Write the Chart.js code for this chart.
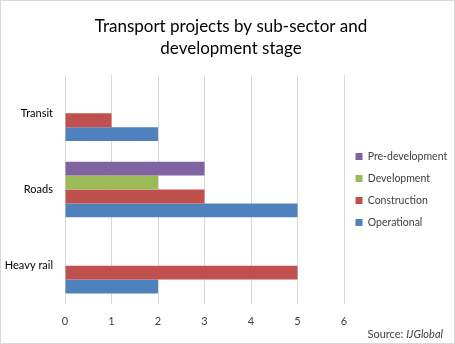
<!DOCTYPE html>
<html>
<head>
<meta charset="utf-8">
<script src="https://cdn.jsdelivr.net/npm/chart.js@4"></script>
<style>
  html, body { margin: 0; padding: 0; background: #fff; }
  #wrap {
    position: relative;
    width: 453px;
    height: 342px;
    border: 1px solid #d9d9d9;
    font-family: Lato, "Open Sans", sans-serif;
  }
  #source {
    position: absolute;
    right: 11px;
    bottom: 3px;
    font-size: 11px;
    color: #404040;
  }
</style>
</head>
<body>
<div id="wrap">
  <canvas id="transportChart" width="453" height="342"></canvas>
  <div id="source">Source: <i>IJGlobal</i></div>
</div>
<script>
// Sub-sectors, listed top to bottom as drawn
const subSectors = ['Transit', 'Roads', 'Heavy rail'];

// Project counts per development stage
const preDevelopment = [0, 3, 0];
const development    = [0, 2, 0];
const construction   = [1, 3, 5];
const operational    = [2, 5, 2];

const xTicks = [0, 1, 2, 3, 4, 5, 6];

const FONT = 'Lato, "Open Sans", sans-serif';

const ctx = document.getElementById('transportChart').getContext('2d');
const transportChart = new Chart(ctx, {
    type: 'bar',
    data: {
        labels: subSectors,
        datasets: [
            { label: 'Pre-development', data: preDevelopment, backgroundColor: '#8064A2' },
            { label: 'Development', data: development, backgroundColor: '#9BBB59' },
            { label: 'Construction', data: construction, backgroundColor: '#C0504D' },
            { label: 'Operational', data: operational, backgroundColor: '#4F81BD' }
        ]
    },
    options: {
        indexAxis: 'y',
        responsive: false,
        animation: false,
        layout: {
            // legend's trailing padding is allowed to run past the edge
            padding: { left: 4, right: -3, top: 10, bottom: 4 }
        },
        datasets: {
            bar: {
                categoryPercentage: 0.73,
                barPercentage: 1.0,
                borderWidth: 0
            }
        },
        plugins: {
            title: {
                display: true,
                text: ['Transport projects by sub-sector and', 'development stage'],
                color: '#000',
                font: { family: FONT, size: 17, weight: 'normal', lineHeight: 1.3 },
                padding: { top: 4, bottom: 16 }
            },
            legend: {
                position: 'right',
                fullSize: false,
                labels: {
                    color: '#404040',
                    font: { family: FONT, size: 10.5 },
                    boxWidth: 7,
                    boxHeight: 7,
                    padding: 11.5
                }
            },
            tooltip: { enabled: false }
        },
        scales: {
            x: {
                min: 0,
                max: 6,
                afterBuildTicks: scale => {
                    scale.ticks = xTicks.map(v => ({ value: v }));
                },
                grid: { color: '#d9d9d9', drawTicks: false },
                border: { display: false },
                ticks: {
                    color: '#404040',
                    font: { family: FONT, size: 11 },
                    padding: 11
                }
            },
            y: {
                grid: { display: false, drawTicks: false },
                border: { display: false },
                ticks: {
                    color: '#000',
                    font: { family: FONT, size: 11 },
                    padding: 12
                },
                afterFit: scale => { scale.width = 60; }
            }
        }
    }
});
</script>
</body>
</html>
